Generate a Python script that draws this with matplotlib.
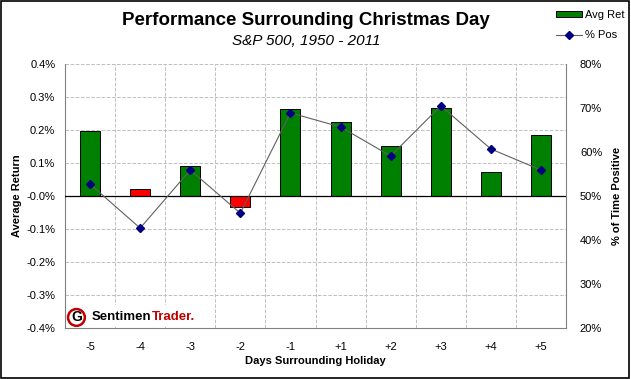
import numpy as np
import matplotlib.pyplot as plt
from matplotlib.patches import Rectangle
from matplotlib.lines import Line2D
from matplotlib.patches import Patch

plt.rcParams['font.family'] = ['Liberation Sans', 'DejaVu Sans']

# data
days = ['-5', '-4', '-3', '-2', '-1', '+1', '+2', '+3', '+4', '+5']
avg_ret = [0.197, 0.021, 0.091, -0.033, 0.264, 0.224, 0.152, 0.267, 0.073, 0.185]
pct_pos = [52.7, 42.7, 55.9, 46.1, 68.9, 65.7, 59.1, 70.5, 60.7, 55.9]

fig = plt.figure(figsize=(6.31, 3.79), dpi=100)
fig.patches.append(Rectangle((0.002, 0.003), 0.995, 0.994, transform=fig.transFigure,
                             fill=False, edgecolor='black', linewidth=1.2))

ax = fig.add_axes([0.103, 0.1346, 0.794, 0.6964])
x = np.arange(len(days))
# red when the day is up less than half the time
cols = ['#008000' if p >= 50 else '#ff0000' for p in pct_pos]
ax.bar(x, avg_ret, width=0.4, color=cols, edgecolor='black', linewidth=0.7, zorder=3)
ax.axhline(0, color='black', linewidth=0.9, zorder=4)
ax.set_xlim(-0.5, len(days) - 0.5)
ax.set_ylim(-0.4, 0.4)
ax.set_yticks(np.arange(-0.4, 0.41, 0.1))
ax.set_yticklabels(['%.1f%%' % v for v in np.arange(-0.4, 0.41, 0.1)], fontsize=8)
ax.set_xticks(x)
ax.set_xticklabels(days, fontsize=8)
ax.set_xticks(np.arange(-0.5, len(days), 1), minor=True)
ax.tick_params(axis='x', which='both', length=0, pad=10)
ax.tick_params(axis='y', length=0, pad=7)
ax.grid(True, axis='y', linestyle='--', color='#c0c0c0', linewidth=0.7, zorder=0)
ax.grid(True, axis='x', which='minor', linestyle='--', color='#c0c0c0', linewidth=0.7, zorder=0)
ax.grid(False, axis='x', which='major')
for s in ['top', 'right']:
    ax.spines[s].set_visible(False)
ax.spines['left'].set_color('#808080')
ax.spines['bottom'].set_color('#808080')
ax.set_xlabel('Days Surrounding Holiday', fontsize=8, fontweight='bold', labelpad=3)
ax.set_ylabel('Average Return', fontsize=8, fontweight='bold', labelpad=3)

ax2 = ax.twinx()
ax2.plot(x, pct_pos, color='#606060', linewidth=0.8, marker='D', markersize=4,
         markerfacecolor='#000080', markeredgecolor='#000080', zorder=5)
ax2.set_ylim(20, 80)
ax2.set_yticks(np.arange(20, 81, 10))
ax2.set_yticklabels(['%d%%' % v for v in np.arange(20, 81, 10)], fontsize=8)
ax2.tick_params(axis='y', length=0, pad=10)
for s in ['top', 'left', 'bottom']:
    ax2.spines[s].set_visible(False)
ax2.spines['right'].set_color('#808080')
ax2.set_ylabel('% of Time Positive', fontsize=8, fontweight='bold', labelpad=7)

# logo box
logo = Rectangle((0.002, 0.002), 0.27, 0.085, transform=ax.transAxes,
                 facecolor='white', edgecolor='none', zorder=2)
ax.add_patch(logo)
ax.text(0.012, 0.04, 'G', transform=ax.transAxes, fontsize=10, fontweight='bold',
        color='black', va='center', zorder=3,
        bbox=dict(boxstyle='circle,pad=0.1', facecolor='white', edgecolor='#c00000', linewidth=1.8))
t1 = ax.text(0.054, 0.04, 'Sentimen', transform=ax.transAxes, fontsize=9.5, fontweight='bold',
             color='black', va='center', zorder=3)
ax.annotate('Trader.', xy=(1, 0.5), xycoords=t1, va='center', ha='left',
            fontsize=9.5, fontweight='bold', color='#c00000', zorder=3)

fig.text(0.485, 0.945, 'Performance Surrounding Christmas Day', ha='center', va='center',
         fontsize=13.5, fontweight='bold')
fig.text(0.485, 0.893, 'S&P 500, 1950 - 2011', ha='center', va='center',
         fontsize=11, style='italic')

handles = [Patch(facecolor='#008000', edgecolor='black', linewidth=0.7),
           Line2D([0], [0], color='#606060', linewidth=0.8, marker='D', markersize=4,
                  markerfacecolor='#000080', markeredgecolor='#000080')]
fig.legend(handles, ['Avg Ret', '% Pos'], loc='upper right', bbox_to_anchor=(0.997, 0.985),
           fontsize=8, frameon=False, handlelength=2.3, handleheight=0.5, labelspacing=0.9,
           handletextpad=0.3, borderaxespad=0)

fig.savefig('out.png', dpi=100)
